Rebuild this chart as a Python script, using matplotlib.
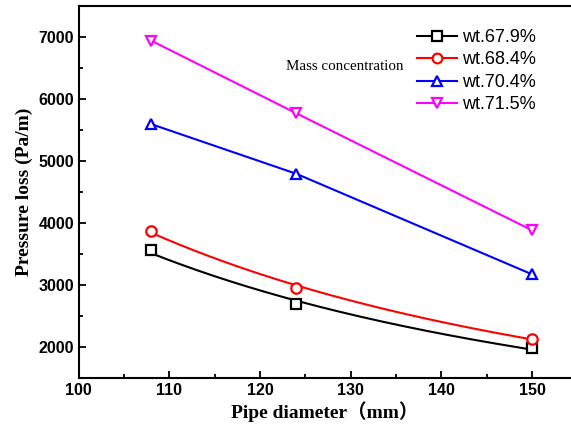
import matplotlib.pyplot as plt
import numpy as np
from matplotlib.ticker import MultipleLocator

diameter = [108, 124, 150]
series_names = ['wt.67.9%', 'wt.68.4%', 'wt.70.4%', 'wt.71.5%']
loss_679 = [3560, 2690, 1980]
loss_684 = [3880, 2950, 2140]
loss_704 = [5595, 4795, 3175]
loss_715 = [6940, 5770, 3885]

colors = ['black', 'red', 'blue', 'magenta']
markers = ['s', 'o', '^', 'v']
fitted = [True, True, False, False]

fig = plt.figure(figsize=(5.71, 4.25), dpi=100)
ax = fig.add_axes([0.138, 0.11, 0.862, 0.876])

x_fine = np.linspace(diameter[0], diameter[-1], 200)
for name, vals, c, m, fit in zip(series_names, [loss_679, loss_684, loss_704, loss_715],
                                 colors, markers, fitted):
    if fit:
        # power-law fit through the measured points
        b, a = np.polyfit(np.log(diameter), np.log(vals), 1)
        ax.plot(x_fine, np.exp(a) * x_fine ** b, color=c, lw=1.5)
    else:
        ax.plot(diameter, vals, color=c, lw=1.5)
    ax.plot(diameter, vals, ls='none', marker=m, ms=7.5, mfc='white', mec=c, mew=1.6)
    ax.plot([], [], color=c, lw=1.5, marker=m, ms=7, mfc='white', mec=c, mew=1.6, label=name)

ax.set_xlim(100, 154.3)
ax.set_ylim(1500, 7500)
ax.xaxis.set_major_locator(MultipleLocator(10))
ax.xaxis.set_minor_locator(MultipleLocator(5))
ax.yaxis.set_major_locator(MultipleLocator(1000))
ax.yaxis.set_minor_locator(MultipleLocator(500))
ax.tick_params(which='both', direction='in', width=1.3)
ax.tick_params(which='major', length=5, labelsize=11.5)
ax.tick_params(which='minor', length=3)
for lab in ax.get_xticklabels() + ax.get_yticklabels():
    lab.set_fontweight('bold')
    lab.set_family('Liberation Sans')
for sp in ax.spines.values():
    sp.set_linewidth(1.5)
ax.spines['right'].set_visible(False)

ax.set_xlabel('Pipe diameter（mm）', family=['Liberation Serif', 'Noto Sans CJK SC'],
              fontweight='bold', fontsize=14, labelpad=2)
ax.set_ylabel('Pressure loss (Pa/m)', family='Liberation Serif', fontweight='bold', fontsize=14)

ax.text(122.9, 6520, 'Mass concentration', family='Liberation Serif', fontsize=10.8,
        va='center')
ax.legend(loc='upper right', bbox_to_anchor=(0.955, 0.972), frameon=False,
          prop={'family': 'Liberation Sans', 'size': 13}, handlelength=2.2,
          handletextpad=0.3, labelspacing=0.3, borderaxespad=0.3)

fig.savefig('out.png', dpi=100)
